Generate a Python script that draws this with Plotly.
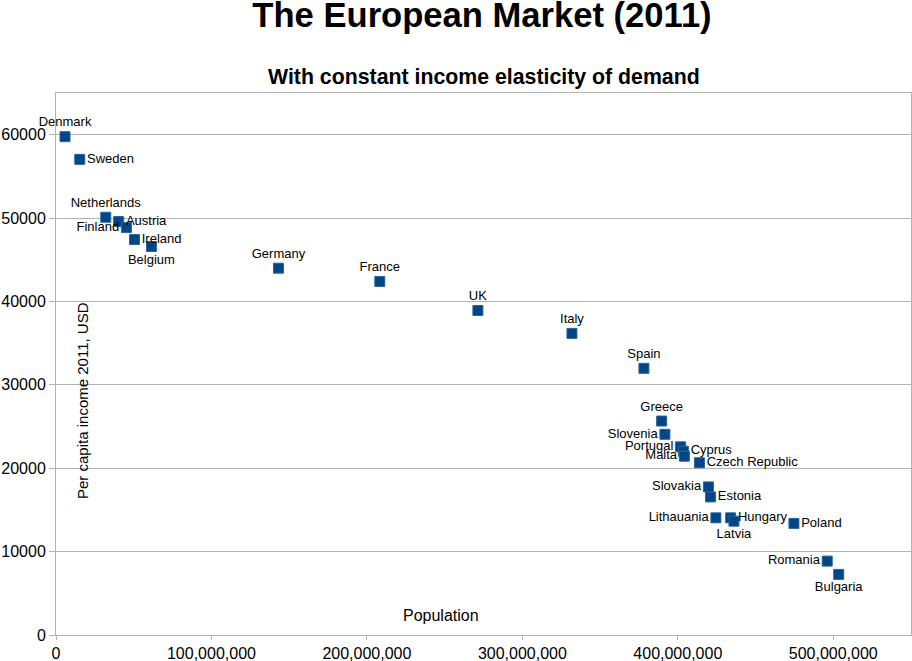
import plotly.graph_objects as go

countries = ["Denmark", "Sweden", "Netherlands", "Austria", "Finland", "Ireland", "Belgium",
             "Germany", "France", "UK", "Italy", "Spain", "Greece", "Slovenia", "Portugal",
             "Cyprus", "Malta", "Czech Republic", "Slovakia", "Estonia", "Lithauania",
             "Hungary", "Latvia", "Poland", "Romania", "Bulgaria"]
population_cum = [5.8e6, 15.3e6, 32.0e6, 40.3e6, 45.3e6, 50.5e6, 61.4e6,
                  143.1e6, 208.3e6, 271.4e6, 331.9e6, 378.2e6, 389.6e6, 391.7e6, 401.8e6,
                  403.6e6, 404.2e6, 413.9e6, 419.7e6, 421.1e6, 424.5e6,
                  434.0e6, 436.1e6, 474.7e6, 496.1e6, 503.5e6]
income = [59760, 57040, 50100, 49580, 48860, 47420, 46590,
          43990, 42400, 38920, 36170, 31980, 25660, 24070, 22570,
          22040, 21440, 20660, 17760, 16560, 14050,
          14050, 13650, 13380, 8860, 7270]
label_pos = ["top center", "middle right", "top center", "middle right", "middle left",
             "middle right", "bottom center", "top center", "top center", "top center",
             "top center", "top center", "top center", "middle left", "middle left",
             "middle right", "middle left", "middle right", "middle left", "middle right",
             "middle left", "middle right", "bottom center", "middle right", "middle left",
             "bottom center"]

FONT = "Liberation Sans, Arial, sans-serif"
GRID = "#b3b3b3"

fig = go.Figure()
fig.add_trace(go.Scatter(
    x=population_cum, y=income, mode="markers+text",
    text=countries, textposition=label_pos,
    textfont=dict(family=FONT, size=13, color="black"),
    marker=dict(symbol="square", size=10, color="#004586",
                line=dict(width=1, color="#2a64a0")),
    cliponaxis=False, showlegend=False, hoverinfo="skip",
))

fig.update_layout(
    width=912, height=661,
    margin=dict(l=56, r=1, t=93, b=26, autoexpand=False),
    paper_bgcolor="white", plot_bgcolor="white",
    font=dict(family=FONT, color="black"),
    title=dict(text="<b>The European Market (2011)</b>", x=482 / 912, xanchor="center",
               y=1 - 15 / 661, yanchor="middle", yref="container",
               font=dict(family=FONT, size=34.6, color="black")),
    annotations=[
        dict(text="<b>With constant income elasticity of demand</b>", xref="paper", yref="paper",
             x=(483.5 - 56) / 855, y=(635 - 77) / 542, xanchor="center", yanchor="middle",
             showarrow=False, font=dict(family=FONT, size=21.3, color="black")),
        dict(text="Per capita income 2011, USD", xref="paper", yref="paper",
             x=(82 - 56) / 855, y=(635 - 401) / 542, textangle=-90, xanchor="center",
             yanchor="middle", showarrow=False, font=dict(family=FONT, size=15, color="black")),
        dict(text="Population", xref="paper", yref="paper",
             x=(441 - 56) / 855, y=(635 - 615) / 542, xanchor="center", yanchor="middle",
             showarrow=False, font=dict(family=FONT, size=16, color="black")),
    ],
)
fig.update_xaxes(range=[0, 550e6], dtick=100e6, tick0=0, tickformat=",d", automargin=False,
                 showgrid=False, zeroline=False, showline=True, linecolor=GRID, linewidth=1,
                 mirror=True, ticks="outside", ticklen=4, tickcolor=GRID,
                 tickfont=dict(family=FONT, size=16, color="black"))
fig.update_yaxes(range=[0, 65000], dtick=10000, tick0=0, tickformat="d", automargin=False,
                 showgrid=True, gridcolor=GRID, gridwidth=1, zeroline=False,
                 showline=True, linecolor=GRID, linewidth=1, mirror=True,
                 ticks="outside", ticklen=6, tickcolor=GRID,
                 tickfont=dict(family=FONT, size=16, color="black"))

fig.write_html("out.html", config={"displayModeBar": False},
               post_script="document.body.style.margin='0';document.body.style.overflow='hidden';")
